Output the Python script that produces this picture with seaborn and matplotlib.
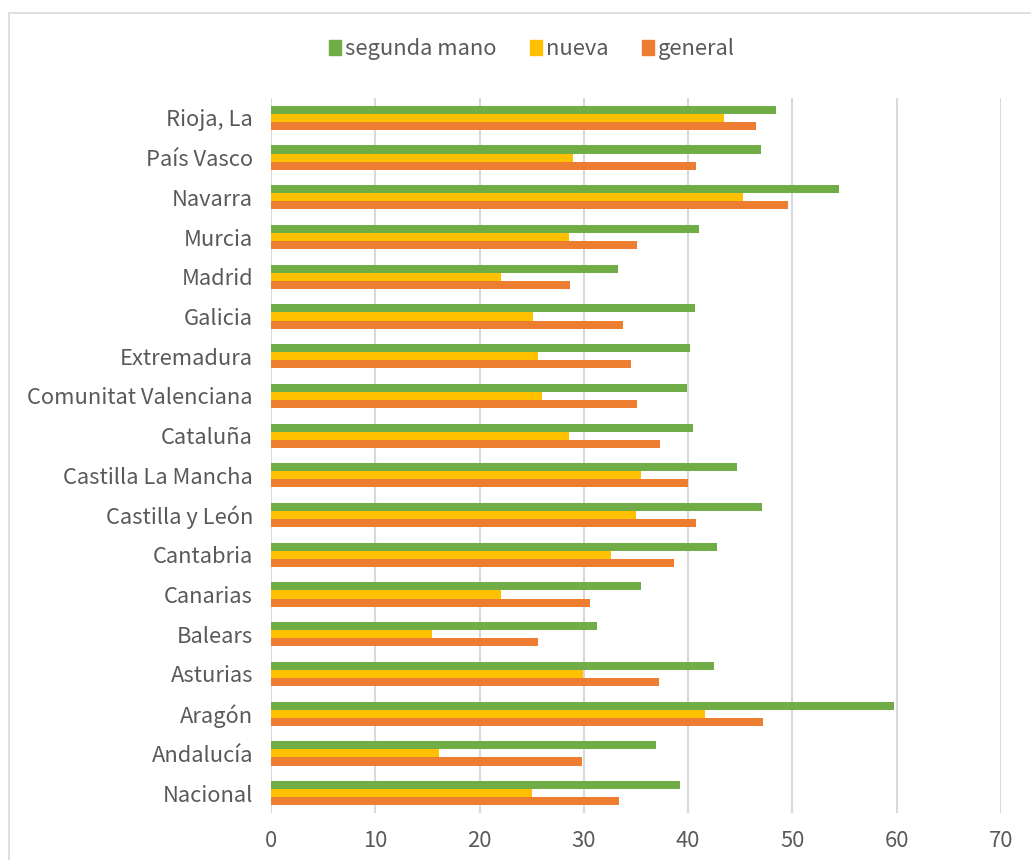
import matplotlib
matplotlib.use("Agg")
import matplotlib.pyplot as plt
import matplotlib.patches as mpatches
import seaborn as sns
import pandas as pd

regiones = ['Rioja, La', 'País Vasco', 'Navarra', 'Murcia', 'Madrid', 'Galicia',
            'Extremadura', 'Comunitat Valenciana', 'Cataluña', 'Castilla La Mancha',
            'Castilla y León', 'Cantabria', 'Canarias', 'Balears', 'Asturias',
            'Aragón', 'Andalucía', 'Nacional']
segunda_mano = [48.4, 47.0, 54.5, 41.0, 33.3, 40.7, 40.2, 39.9, 40.5, 44.7,
                47.1, 42.8, 35.5, 31.3, 42.5, 59.7, 36.9, 39.2]
nueva = [43.4, 29.0, 45.3, 28.6, 22.1, 25.1, 25.6, 26.0, 28.6, 35.5,
         35.0, 32.6, 22.1, 15.4, 29.9, 41.6, 16.1, 25.0]
general = [46.5, 40.8, 49.6, 35.1, 28.7, 33.8, 34.5, 35.1, 37.3, 40.0,
           40.8, 38.6, 30.6, 25.6, 37.2, 47.2, 29.8, 33.4]
series = ['segunda mano', 'nueva', 'general']
colores = ['#70AD47', '#FFC000', '#ED7D31']
x_ticks = [0, 10, 20, 30, 40, 50, 60, 70]

df = pd.DataFrame({'region': regiones, 'segunda mano': segunda_mano,
                   'nueva': nueva, 'general': general})
df_long = df.melt(id_vars='region', var_name='tipo', value_name='valor')

sns.set_style('white')
plt.rcParams['font.family'] = ['Noto Sans CJK SC', 'DejaVu Sans']
gris = '#595959'

fig = plt.figure(figsize=(10.31, 8.6), dpi=100)
ax = fig.add_axes([271 / 1031, 47 / 860, 730 / 1031, 715 / 860])

sns.barplot(data=df_long, y='region', x='valor', hue='tipo', hue_order=series,
            order=regiones, palette=colores, orient='h', width=0.61,
            linewidth=0, saturation=1, ax=ax)

ax.set_xlim(0, 70)
ax.set_xticks(x_ticks)
ax.set_xlabel('')
ax.set_ylabel('')
ax.grid(axis='x', color='#d9d9d9', linewidth=1.5)
ax.set_axisbelow(True)
for s in ax.spines.values():
    s.set_visible(False)
ax.tick_params(axis='both', length=0, labelsize=15.8, labelcolor=gris)
ax.tick_params(axis='x', pad=12)
ax.tick_params(axis='y', pad=13)

# leyenda arriba
ax.get_legend().remove()
handles = [mpatches.Patch(color=c, label=s) for c, s in zip(colores, series)]
fig.legend(handles=handles, loc='center', bbox_to_anchor=(532 / 1031, 1 - 49 / 860),
           ncol=3, frameon=False, fontsize=15.8, labelcolor=gris,
           handlelength=0.55, handleheight=0.7, handletextpad=0.2, columnspacing=1.5)

# borde del area del grafico
fig.patches.append(mpatches.Rectangle((9 / 1031, -0.1), 1.2, 1.1 - 13 / 860,
                                      transform=fig.transFigure, fill=False,
                                      edgecolor='#d9d9d9', linewidth=1.2))

fig.savefig('out.png', dpi=100)
